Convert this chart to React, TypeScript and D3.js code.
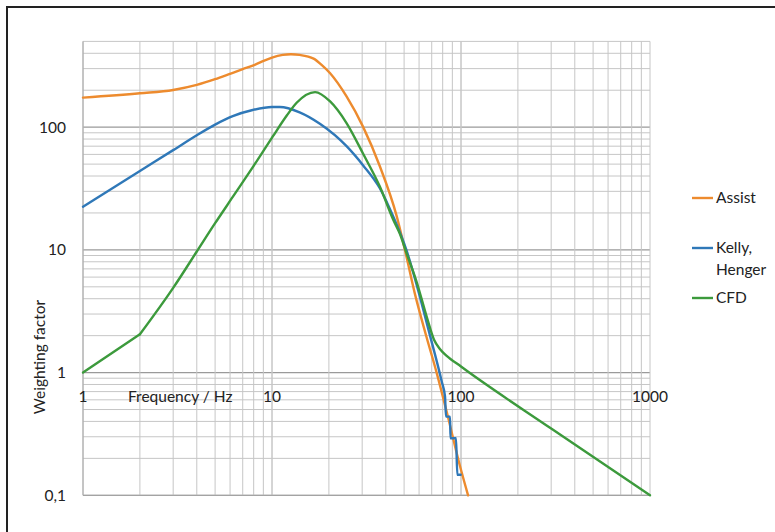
import * as d3 from "d3";

// Frequency (Hz) / weighting factor pairs
const assistFreq = [1, 2, 3, 4, 5, 6.1, 7, 8.1, 9.1, 10, 11.4, 12.6, 14, 16.6, 18.3, 20.3, 24.8, 30.3, 37.2, 45.6, 50.5, 57, 65.7, 74.3, 84, 98.6, 109];
const assistVal = [174, 189, 201, 221, 246, 275, 297, 322, 349, 369, 388, 393, 388, 362, 322, 275, 178, 101, 48, 19, 10, 4.4, 1.95, 1.0, 0.48, 0.175, 0.1];

const kellyFreq = [1, 2, 3, 4, 5, 6.2, 7.9, 10, 11, 14, 18, 24.8, 30.3, 37.2, 43.8, 51.5, 60, 67.1, 79, 82.3, 83.3, 87.5, 88, 94.1, 95.6, 99.6];
const kellyVal = [22.5, 44, 65, 86, 105, 123, 138, 146, 146, 132, 106, 70, 49, 31.8, 18.7, 9.9, 4.4, 2.27, 0.85, 0.64, 0.438, 0.438, 0.292, 0.292, 0.147, 0.147];

const cfdFreq = [1, 2, 3, 4, 5, 6.2, 7.9, 10.1, 12, 13.5, 16.9, 20.3, 24.8, 30.3, 37.2, 43.8, 47.5, 51.5, 58, 65.8, 72, 77.5, 84, 100, 300, 1000];
const cfdVal = [1, 2.05, 4.9, 9.7, 16.5, 27, 47, 84, 125, 158, 193, 162, 108, 61, 32.8, 17.6, 13.5, 9.4, 5.6, 2.86, 1.85, 1.55, 1.37, 1.12, 0.35, 0.1];

const xTicks = [1, 10, 100, 1000];
const xTickLabels = ["1", "10", "100", "1000"];
const yTicks = [0.1, 1, 10, 100];
const yTickLabels = ["0,1", "1", "10", "100"];

const seriesNames = ["Assist", "Kelly,|Henger", "CFD"];
const colors = ["#ED8B2E", "#2F78B8", "#3C9A3C"];

const W = 775;
const H = 532;
const font = "Lato, 'Open Sans', sans-serif";

export default function App() {
  const x = d3.scaleLog().domain([1, 1000]).range([83, 650]);
  const y = d3.scaleLog().domain([0.1, 500]).range([495.3, 41.4]);

  // minor grid values
  const xGrid: number[] = [];
  for (let d = 1; d < 1000; d *= 10) for (let k = 1; k <= 10; k++) xGrid.push(d * k);
  const yGrid: number[] = [];
  for (let d = 0.1; d < 500; d *= 10) for (let k = 1; k <= 9; k++) if (d * k <= 500.01) yGrid.push(d * k);

  const smooth = d3
    .line<[number, number]>()
    .x((d) => x(d[0]))
    .y((d) => y(d[1]))
    .curve(d3.curveMonotoneX);
  const straight = d3
    .line<[number, number]>()
    .x((d) => x(d[0]))
    .y((d) => y(d[1]));

  const zip = (a: number[], b: number[]) => a.map((v, i) => [v, b[i]] as [number, number]);
  const cfd = zip(cfdFreq, cfdVal);
  // CFD has a sharp corner at 2 Hz: straight first segment, smooth after
  const paths = [
    { d: smooth(zip(assistFreq, assistVal)), c: colors[0] },
    { d: smooth(zip(kellyFreq, kellyVal)), c: colors[1] },
    { d: straight(cfd.slice(0, 2)), c: colors[2] },
    { d: smooth(cfd.slice(1)), c: colors[2] },
  ];

  const isDecade = (v: number) => Math.abs(Math.log10(v) - Math.round(Math.log10(v))) < 1e-6;

  return (
    <svg width={W} height={H} style={{ position: "absolute", left: 0, top: 0, background: "#fff" }}>
      <rect x={0} y={0} width={W} height={H} fill="#fff" />
      <path d={`M7,${H} V7 H${W}`} fill="none" stroke="#222" strokeWidth={2} />

      {/* grid */}
      {yGrid.map((v, i) => (
        <line
          key={"hy" + i}
          x1={x(1)}
          x2={x(1000)}
          y1={y(v)}
          y2={y(v)}
          stroke={isDecade(v) ? "#9a9a9a" : "#c6c6c6"}
          strokeWidth={isDecade(v) ? 1.3 : 1}
        />
      ))}
      {xGrid.map((v, i) => (
        <line key={"vx" + i} x1={x(v)} x2={x(v)} y1={y(500)} y2={y(0.1)} stroke="#c6c6c6" strokeWidth={1} />
      ))}
      <line x1={x(1)} x2={x(1)} y1={y(500)} y2={y(0.1)} stroke="#a6a6a6" />
      <line x1={x(1)} x2={x(1000)} y1={y(0.1)} y2={y(0.1)} stroke="#a6a6a6" />

      {/* series */}
      {paths.map((p, i) => (
        <path key={"s" + i} d={p.d || ""} fill="none" stroke={p.c} strokeWidth={2.4} strokeLinejoin="round" strokeLinecap="round" />
      ))}

      {/* tick labels */}
      {yTicks.map((v, i) => (
        <text key={"yt" + i} x={66} y={y(v)} dy="0.35em" textAnchor="end" fontFamily={font} fontSize={15.5} fill="#222">
          {yTickLabels[i]}
        </text>
      ))}
      {xTicks.map((v, i) => (
        <text key={"xt" + i} x={x(v)} y={402} textAnchor="middle" fontFamily={font} fontSize={15.5} fill="#222">
          {xTickLabels[i]}
        </text>
      ))}
      <text x={128} y={402} fontFamily={font} fontSize={15.5} fill="#222">
        Frequency / Hz
      </text>
      <text
        transform="translate(45,357) rotate(-90)"
        textAnchor="middle"
        fontFamily={font}
        fontSize={15.5}
        fill="#222"
      >
        Weighting factor
      </text>

      {/* legend */}
      {seriesNames.map((name, i) => {
        const ly = [198, 248, 298][i];
        const lines = name.split("|");
        return (
          <g key={"lg" + i}>
            <line x1={692} x2={713} y1={ly} y2={ly} stroke={colors[i]} strokeWidth={2.4} />
            {lines.map((t, j) => (
              <text key={j} x={716} y={ly + j * 22} dy="0.35em" fontFamily={font} fontSize={15.5} fill="#222">
                {t}
              </text>
            ))}
          </g>
        );
      })}
    </svg>
  );
}
